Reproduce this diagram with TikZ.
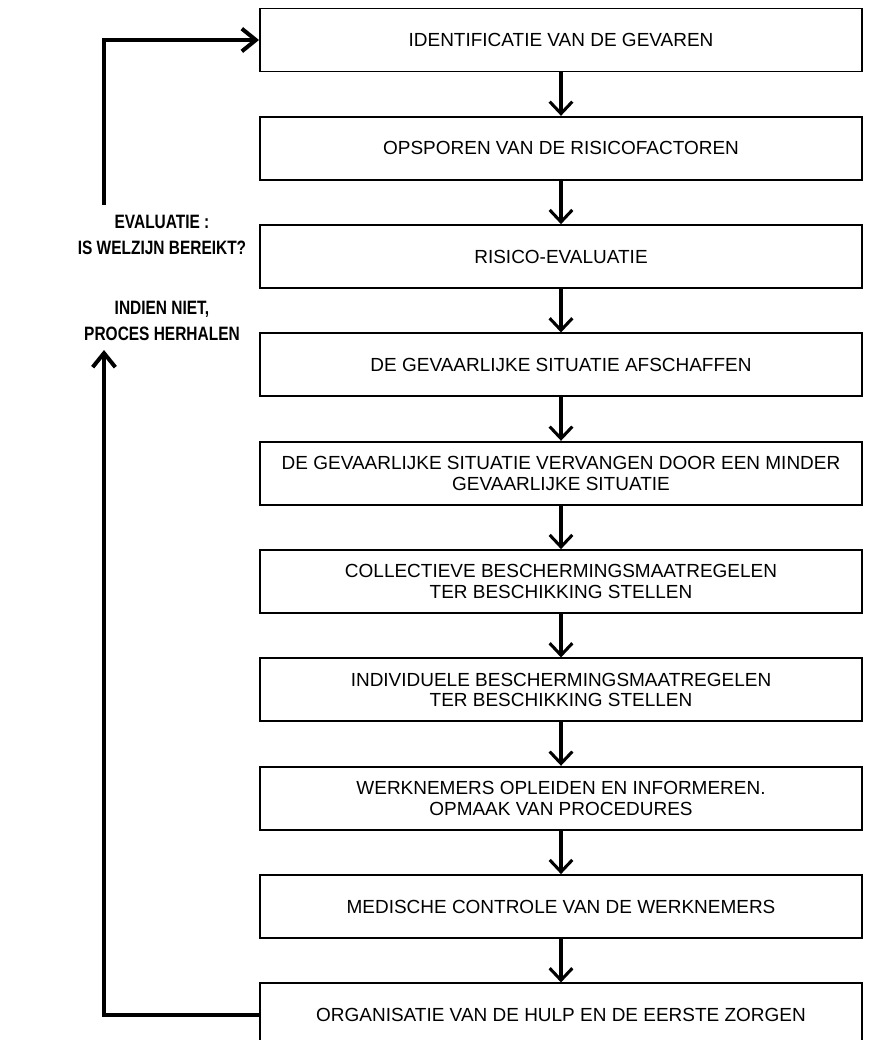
\documentclass[tikz,border=0pt]{standalone}
\usepackage{fontspec}
\setmainfont{Liberation Sans}
\newfontfamily\evalfont[FakeStretch=0.8]{Liberation Sans}
\usetikzlibrary{
    arrows.meta,
    positioning,
    calc
}
\tikzset{
    % --- Step in the prevention chain ---
    stepbox/.style = {
        rectangle, draw, line width=1.7pt,
        minimum width=18.06cm, minimum height=1.89cm,
        font=\fontsize{16.2}{17.5}\selectfont, align=center,
        inner sep=2pt
    },
    % --- Downward arrow between steps ---
    flow arrow/.style = {
        -{Straight Barb[length=3.6mm, width=6.8mm, sharp]},
        line width=2.6pt
    },
    % --- Feedback loop line ---
    loop arrow/.style = {
        -{Straight Barb[length=4.2mm, width=6.8mm, sharp]},
        line width=3.4pt, line join=miter
    },
    % --- Bold label on the loop ---
    eval label/.style = {
        font=\evalfont\bfseries\fontsize{16.5}{22}\selectfont,
        align=center
    }
}

\begin{document}
\begin{tikzpicture}[
    node distance=1.30cm
]
\useasboundingbox (0,0) rectangle (26.07,-31.2);

% ---------------------------------------------------------
% Steps
% ---------------------------------------------------------
\node[stepbox] (b1) at (16.83,-1.2) {IDENTIFICATIE VAN DE GEVAREN};
\node[stepbox, below=of b1] (b2) {OPSPOREN VAN DE RISICOFACTOREN};
\node[stepbox, below=of b2] (b3) {RISICO-EVALUATIE};
\node[stepbox, below=of b3] (b4) {DE GEVAARLIJKE SITUATIE AFSCHAFFEN};
\node[stepbox, below=of b4] (b5) {DE GEVAARLIJKE SITUATIE VERVANGEN DOOR EEN MINDER\\
    GEVAARLIJKE SITUATIE};
\node[stepbox, below=of b5] (b6) {COLLECTIEVE BESCHERMINGSMAATREGELEN\\
    TER BESCHIKKING STELLEN};
\node[stepbox, below=of b6] (b7) {INDIVIDUELE BESCHERMINGSMAATREGELEN\\
    TER BESCHIKKING STELLEN};
\node[stepbox, below=of b7] (b8) {WERKNEMERS OPLEIDEN EN INFORMEREN.\\
    OPMAAK VAN PROCEDURES};
\node[stepbox, below=of b8] (b9) {MEDISCHE CONTROLE VAN DE WERKNEMERS};
\node[stepbox, below=of b9] (b10) {ORGANISATIE VAN DE HULP EN DE EERSTE ZORGEN};

% ---------------------------------------------------------
% Flow arrows
% ---------------------------------------------------------
\foreach \a/\b in {b1/b2, b2/b3, b3/b4, b4/b5, b5/b6, b6/b7, b7/b8, b8/b9, b9/b10} {
    \draw[flow arrow] (\a.south) -- (\b.north);
}

% ---------------------------------------------------------
% Evaluation loop
% ---------------------------------------------------------
\node[eval label] (eval) at (4.86,-8.34) {%
    EVALUATIE :\\
    IS WELZIJN BEREIKT?\\[1.02cm]
    INDIEN NIET,\\
    PROCES HERHALEN
};
\coordinate (evaltop) at (3.12,-6.15);
\coordinate (evalbot) at (3.12,-10.5);

\draw[loop arrow] (b10.west) -| (evalbot);
\draw[loop arrow] (evaltop) |- (b1.west);

\end{tikzpicture}
\end{document}
